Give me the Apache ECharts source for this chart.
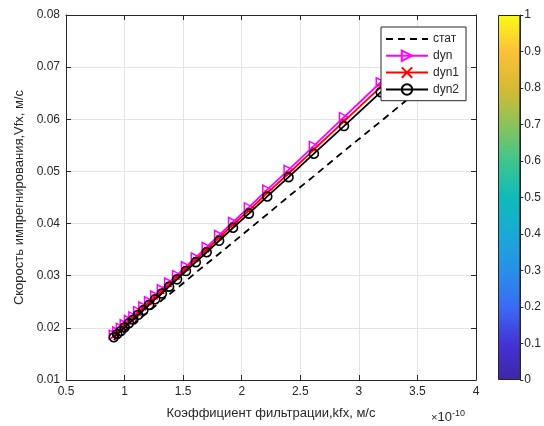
<!DOCTYPE html>
<html>
<head>
<meta charset="utf-8">
<script src="https://cdn.jsdelivr.net/npm/echarts@6/dist/echarts.min.js"></script>
<style>
html, body { margin: 0; padding: 0; background: #fff; }
#main { width: 544px; height: 426px; }
</style>
</head>
<body>
<div id="main"></div>
<script>
// kfx in units of 1e-10 m/s
const kfx = [0.908, 0.937, 0.968, 1.001, 1.037, 1.075, 1.116, 1.160, 1.209, 1.261, 1.318, 1.380, 1.448,
    1.524, 1.608, 1.701, 1.807, 1.926, 2.061, 2.218, 2.400, 2.616, 2.873, 3.187, 3.577]
const stat = [0.0177, 0.0182, 0.0188, 0.0194, 0.0201, 0.0208, 0.0215, 0.0223, 0.0232, 0.0242, 0.0253, 0.0264, 0.0276,
    0.0290, 0.0306, 0.0323, 0.0342, 0.0364, 0.0389, 0.0418, 0.0452, 0.0491, 0.0539, 0.0596, 0.0668]
const dyn = [0.0187, 0.0193, 0.0200, 0.0207, 0.0215, 0.0222, 0.0232, 0.0241, 0.0251, 0.0262, 0.0274, 0.0287, 0.0301,
    0.0318, 0.0335, 0.0355, 0.0378, 0.0403, 0.0431, 0.0465, 0.0503, 0.0549, 0.0604, 0.0671, 0.0753]
const dyn1 = [0.0185, 0.0191, 0.0197, 0.0204, 0.0212, 0.0219, 0.0228, 0.0238, 0.0248, 0.0259, 0.0270, 0.0283, 0.0297,
    0.0314, 0.0331, 0.0350, 0.0373, 0.0398, 0.0425, 0.0459, 0.0496, 0.0542, 0.0596, 0.0662, 0.0743]
const dyn2 = [0.0182, 0.0188, 0.0194, 0.0201, 0.0209, 0.0216, 0.0225, 0.0234, 0.0244, 0.0255, 0.0266, 0.0279, 0.0293,
    0.0309, 0.0326, 0.0345, 0.0367, 0.0392, 0.0419, 0.0452, 0.0489, 0.0534, 0.0587, 0.0652, 0.0732]

// colorbar (parula-like)
const cbStops = [0, 0.1, 0.2, 0.3, 0.4, 0.5, 0.6, 0.7, 0.8, 0.9, 1]
const cbColors = ['#3e26a8', '#4433d6', '#3b6bf4', '#2790e8', '#1aa9d6', '#0fbab8', '#3ec58e', '#8cc35a', '#d6ba31', '#fbc13a', '#f9fb15']

const font = 'Liberation Sans, Arial, sans-serif'
const txt = '#262626'

function pairs(ys) {
    return kfx.map((x, i) => [x, ys[i]])
}

const chart = echarts.init(document.getElementById('main'))

const boxAxis = {
    axisLine: { show: true, lineStyle: { color: txt, width: 1 } },
    axisTick: { show: true, inside: true, length: 5, lineStyle: { color: txt } },
    axisLabel: { show: false },
    splitLine: { show: false }
}

const option = {
    animation: false,
    backgroundColor: '#fff',
    textStyle: { fontFamily: font },
    grid: [
        { left: 66, right: 68, top: 15, bottom: 46, show: false },
        { left: 498, width: 23, top: 15, height: 365, show: false }
    ],
    xAxis: [
        {
            type: 'value', gridIndex: 0, min: 0.5, max: 4, interval: 0.5,
            name: 'Коэффициент фильтрации,kfx, м/с',
            nameLocation: 'middle', nameGap: 27,
            nameTextStyle: { color: txt, fontSize: 13, fontFamily: font },
            axisLine: { show: true, onZero: false, lineStyle: { color: txt } },
            axisTick: { inside: true, length: 5, lineStyle: { color: txt } },
            axisLabel: { color: txt, fontSize: 12, fontFamily: font, margin: 6 },
            splitLine: { show: true, lineStyle: { color: '#e3e3e3' } }
        },
        Object.assign({ type: 'value', gridIndex: 0, position: 'top', min: 0.5, max: 4, interval: 0.5 }, boxAxis),
        {
            type: 'category', gridIndex: 1, data: ['cb'], show: false
        }
    ],
    yAxis: [
        {
            type: 'value', gridIndex: 0, min: 0.01, max: 0.08, interval: 0.01,
            name: 'Скорость импрегнирования,Vfx, м/с',
            nameLocation: 'middle', nameGap: 40,
            nameTextStyle: { color: txt, fontSize: 13, fontFamily: font },
            axisLine: { show: true, lineStyle: { color: txt } },
            axisTick: { inside: true, length: 5, lineStyle: { color: txt } },
            axisLabel: { color: txt, fontSize: 12, fontFamily: font, margin: 6, formatter: v => v.toFixed(2) },
            splitLine: { show: true, lineStyle: { color: '#e3e3e3' } }
        },
        Object.assign({ type: 'value', gridIndex: 0, position: 'right', min: 0.01, max: 0.08, interval: 0.01 }, boxAxis),
        {
            type: 'value', gridIndex: 1, position: 'right', min: 0, max: 1, interval: 0.1,
            axisLine: { show: true, lineStyle: { color: txt } },
            axisTick: { show: true, inside: false, length: 3, lineStyle: { color: txt } },
            axisLabel: { color: txt, fontSize: 12, fontFamily: font, margin: 4 },
            splitLine: { show: false }
        }
    ],
    legend: {
        left: 381, top: 27, z: 20,
        orient: 'vertical',
        backgroundColor: '#fff',
        borderColor: txt, borderWidth: 1,
        padding: [6, 7, 5, 4],
        itemGap: 4.5, itemWidth: 42, itemHeight: 13,
        textStyle: { color: txt, fontSize: 12, fontFamily: font },
        data: ['стат', 'dyn', 'dyn1', 'dyn2']
    },
    series: [
        {
            name: 'стат', type: 'line', data: pairs(stat),
            symbol: 'circle', showSymbol: false,
            lineStyle: { color: '#000', width: 1.8, type: [7, 5] },
            itemStyle: { color: 'rgba(0,0,0,0)', borderWidth: 0 }, z: 3
        },
        {
            name: 'dyn', type: 'line', data: pairs(dyn),
            symbol: 'triangle', symbolSize: 9, symbolRotate: -90,
            lineStyle: { color: '#ff00ff', width: 1.8 },
            itemStyle: { color: 'rgba(0,0,0,0)', borderColor: '#ff00ff', borderWidth: 1.5 }, z: 3
        },
        {
            name: 'dyn1', type: 'line', data: pairs(dyn1),
            symbol: 'path://M0,0L10,10M10,0L0,10', symbolSize: 5,
            lineStyle: { color: '#ff0000', width: 1.8 },
            itemStyle: { color: '#ff0000', borderColor: '#ff0000', borderWidth: 1.5 }, z: 4
        },
        {
            name: 'dyn2', type: 'line', data: pairs(dyn2),
            symbol: 'circle', symbolSize: 9,
            lineStyle: { color: '#000', width: 1.8 },
            itemStyle: { color: 'rgba(0,0,0,0)', borderColor: '#000', borderWidth: 1.6 }, z: 5
        },
        {
            name: 'colorbar', type: 'bar', xAxisIndex: 2, yAxisIndex: 2,
            data: [1], barWidth: '100%', silent: true,
            itemStyle: {
                borderColor: txt, borderWidth: 1,
                color: new echarts.graphic.LinearGradient(0, 1, 0, 0,
                    cbStops.map((s, i) => ({ offset: s, color: cbColors[i] })))
            }
        }
    ],
    graphic: [
        {
            type: 'text', left: 431, top: 409,
            style: {
                text: '{m|×}{b|10}{s|-10}',
                rich: {
                    m: { fontSize: 11, fill: txt, fontFamily: font },
                    b: { fontSize: 13, fill: txt, fontFamily: font },
                    s: { fontSize: 9, fill: txt, fontFamily: font, verticalAlign: 'top', padding: [0, 0, 8, 0] }
                }
            }
        }
    ]
}

chart.setOption(option)
</script>
</body>
</html>
